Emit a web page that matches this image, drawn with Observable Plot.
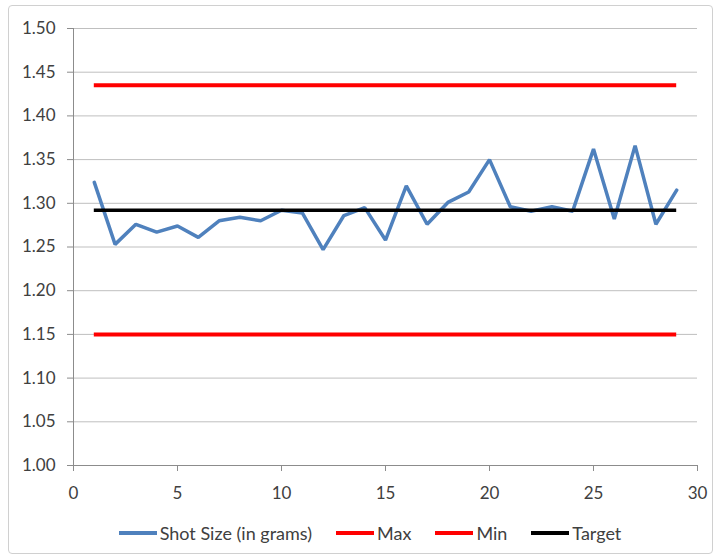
<!DOCTYPE html>
<html>
<head>
<meta charset="utf-8">
<script src="https://cdn.jsdelivr.net/npm/d3@7"></script>
<script src="https://cdn.jsdelivr.net/npm/@observablehq/plot@0.6"></script>
<style>
  body { margin: 0; background: #fff; font-family: Lato, "Open Sans", sans-serif; }
  #wrap { position: relative; width: 718px; height: 560px; }
  #border { position: absolute; left: 8px; top: 5px; width: 705px; height: 549px; border: 1px solid #d0d0d0; border-radius: 4px; box-sizing: border-box; }
  #chart { position: absolute; left: 0; top: 0; }
  #legend { position: absolute; left: 0; top: 522px; width: 718px; height: 22px; display: flex; justify-content: center; align-items: center; font-size: 18px; color: #404040; column-gap: 24px; padding-left: 22px; box-sizing: border-box; }
  .item { display: flex; align-items: center; }
  .sw { display: inline-block; width: 38px; height: 4px; margin-right: 3px; }
</style>
</head>
<body>
<div id="wrap">
  <div id="border"></div>
  <div id="chart"></div>
  <div id="legend"></div>
</div>
<script>
const samples = [1,2,3,4,5,6,7,8,9,10,11,12,13,14,15,16,17,18,19,20,21,22,23,24,25,26,27,28,29];
const shotSize = [1.324,1.253,1.276,1.267,1.274,1.261,1.280,1.284,1.280,1.292,1.289,1.247,1.286,1.295,1.258,1.320,1.276,1.301,1.313,1.350,1.296,1.291,1.296,1.291,1.362,1.282,1.366,1.276,1.315];
const maxLimit = 1.435;
const minLimit = 1.15;
const target = 1.292;
const yTicks = [1.00,1.05,1.10,1.15,1.20,1.25,1.30,1.35,1.40,1.45,1.50];
const xTicks = [0,5,10,15,20,25,30];
const seriesNames = ["Shot Size (in grams)", "Max", "Min", "Target"];
const seriesColors = ["#4f81bd", "#ff0000", "#ff0000", "#000000"];

const data = samples.map((s, i) => ({x: s, y: shotSize[i]}));
const x1 = samples[0], x2 = samples[samples.length - 1];

const chart = Plot.plot({
  width: 718,
  height: 510,
  marginLeft: 73,
  marginRight: 21,
  marginTop: 28,
  marginBottom: 45,
  style: {fontFamily: "Lato, 'Open Sans', sans-serif", fontSize: "17px", color: "#404040", background: "transparent"},
  x: {domain: [0, 30]},
  y: {domain: [1.0, 1.5]},
  marks: [
    Plot.gridY(yTicks, {stroke: "#bfbfbf", strokeOpacity: 1, strokeWidth: 1}),
    Plot.axisY({ticks: yTicks, tickFormat: d3.format(".2f"), tickSize: 6, tickPadding: 12, stroke: "#8c8c8c", label: null, fontSize: 17}),
    Plot.axisX({ticks: xTicks, tickSize: 6, tickPadding: 15, stroke: "#8c8c8c", label: null, fontSize: 17}),
    Plot.ruleX([0], {stroke: "#8c8c8c"}),
    Plot.ruleY([1.0], {stroke: "#8c8c8c"}),
    Plot.ruleY([maxLimit], {x1: x1, x2: x2, stroke: seriesColors[1], strokeWidth: 4}),
    Plot.ruleY([minLimit], {x1: x1, x2: x2, stroke: seriesColors[2], strokeWidth: 4}),
    Plot.line(data, {x: "x", y: "y", stroke: seriesColors[0], strokeWidth: 3.5, strokeLinejoin: "miter"}),
    Plot.ruleY([target], {x1: x1, x2: x2, stroke: seriesColors[3], strokeWidth: 3.5})
  ]
});
document.getElementById("chart").appendChild(chart);

const legend = document.getElementById("legend");
seriesNames.forEach((n, i) => {
  const it = document.createElement("span");
  it.className = "item";
  it.innerHTML = `<span class="sw" style="background:${seriesColors[i]}"></span><span>${n}</span>`;
  legend.appendChild(it);
});
</script>
</body>
</html>
